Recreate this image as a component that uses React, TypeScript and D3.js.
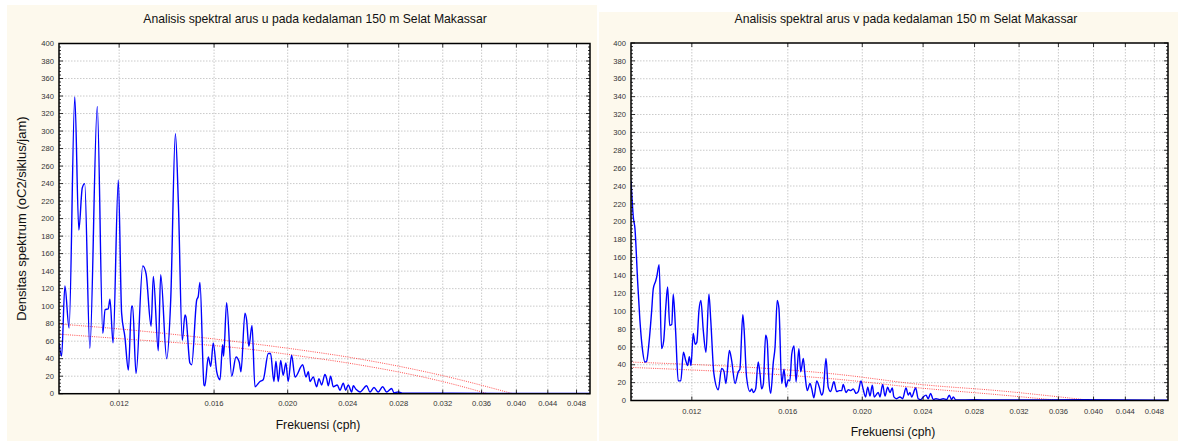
import React from "react";
import * as d3 from "d3";

// ---- shared axis definitions ----
const freqDomain = [0.01, 0.05];
const freqTicks = [0.012, 0.016, 0.02, 0.024, 0.028, 0.032, 0.036, 0.04, 0.044, 0.048];
const densityTicks = [0, 20, 40, 60, 80, 100, 120, 140, 160, 180, 200, 220, 240, 260, 280, 300, 320, 340, 360, 380, 400];

// ---- u component spectrum (cph, density) ----
const uFreq = [
  0.01, 0.01008, 0.01018, 0.01031, 0.01049, 0.01062, 0.01073, 0.01081, 0.01098, 0.01123,
  0.01142, 0.0115, 0.01161, 0.01167, 0.01178, 0.01197, 0.01209, 0.01221, 0.01234, 0.01246,
  0.0125, 0.01263, 0.01289, 0.01302, 0.01322, 0.01331, 0.01351, 0.01361, 0.01386, 0.01403,
  0.01423, 0.01436, 0.01453, 0.01465, 0.01469, 0.01487, 0.01495, 0.01518, 0.01525, 0.01533,
  0.01552, 0.01556, 0.01572, 0.01584, 0.01596, 0.01613, 0.01629, 0.01642, 0.01647, 0.01662,
  0.01688, 0.0171, 0.01727, 0.01736, 0.01757, 0.01766, 0.01778, 0.01795, 0.01811, 0.01839,
  0.01857, 0.01886, 0.01899, 0.01918, 0.0193, 0.01944, 0.01958, 0.01973, 0.01989, 0.02003,
  0.02024, 0.02045, 0.02093, 0.02114, 0.02129, 0.0214, 0.02161, 0.02183, 0.02199, 0.02217,
  0.02239, 0.02251, 0.02262, 0.02278, 0.02296, 0.02324, 0.02343, 0.02367, 0.02384, 0.02403,
  0.02428, 0.0244, 0.0246, 0.0249, 0.02541, 0.02566, 0.02598, 0.02632, 0.02667, 0.02699,
  0.02741, 0.0276, 0.02796, 0.02839, 0.0327, 0.03805, 0.04428, 0.05,
];
const uDensity = [
  58, 43, 123, 75, 339, 187, 235, 240, 52, 328,
  69, 96, 97, 108, 58, 244, 92, 65, 27, 100,
  100, 23, 146, 137, 77, 134, 49, 136, 40, 107,
  297, 217, 61, 90, 88, 35, 33, 107, 111, 127,
  10, 9, 42, 31, 58, 25, 16, 56, 43, 104,
  20, 42, 36, 25, 92, 84, 54, 78, 8, 14,
  16, 46, 46, 14, 37, 14, 38, 21, 35, 14,
  44, 19, 33, 19, 25, 14, 19, 8, 17, 10,
  22, 17, 9, 20, 8, 10, 4, 12, 4, 10,
  2, 9, 5, 2, 9, 2, 7, 2, 8, 2,
  6, 1, 2, 0.5, 0.5, 0.3, 0.2, 0.2,
];

// ---- v component spectrum (cph, density) ----
const vFreq = [
  0.01, 0.01007, 0.01012, 0.0102, 0.01027, 0.01034, 0.01043, 0.01048, 0.01055, 0.01064,
  0.01069, 0.01077, 0.0108, 0.01088, 0.01096, 0.01103, 0.0111, 0.01116, 0.01123, 0.0113,
  0.01135, 0.01143, 0.01152, 0.01161, 0.0117, 0.01178, 0.01185, 0.01191, 0.01197, 0.01205,
  0.01212, 0.01218, 0.01226, 0.01233, 0.01242, 0.01252, 0.01263, 0.0127, 0.01282, 0.01299,
  0.01312, 0.01321, 0.01329, 0.01343, 0.01352, 0.01366, 0.01379, 0.01386, 0.01398, 0.01403,
  0.01414, 0.01428, 0.01436, 0.01443, 0.01453, 0.01464, 0.01472, 0.01479, 0.01487, 0.01497,
  0.01504, 0.01512, 0.0152, 0.01532, 0.0154, 0.0155, 0.01558, 0.01571, 0.01582, 0.01591,
  0.01602, 0.0161, 0.01619, 0.0163, 0.0164, 0.01654, 0.01663, 0.01676, 0.01684, 0.01696,
  0.0171, 0.01719, 0.0173, 0.01745, 0.01758, 0.01771, 0.01779, 0.01794, 0.01806, 0.01819,
  0.01837, 0.01852, 0.01867, 0.0188, 0.01889, 0.01905, 0.01918, 0.01932, 0.01947, 0.01963,
  0.01976, 0.01992, 0.02006, 0.0202, 0.02033, 0.02047, 0.02061, 0.02073, 0.02084, 0.02098,
  0.02109, 0.02126, 0.02141, 0.02158, 0.02173, 0.02188, 0.02199, 0.02217, 0.02239, 0.02257,
  0.0228, 0.02296, 0.02307, 0.02319, 0.02347, 0.02365, 0.02383, 0.02401, 0.02421, 0.02437,
  0.02455, 0.02474, 0.02494, 0.02524, 0.02549, 0.02576, 0.02596, 0.02614, 0.02627, 0.02648,
  0.02804, 0.03022, 0.03875, 0.05,
];
const vDensity = [
  246, 205, 192, 134, 90, 60, 43, 44, 63, 101,
  125, 134, 138, 152, 58, 67, 105, 127, 84, 85,
  119, 78, 22, 22, 54, 45, 39, 49, 39, 75,
  63, 65, 101, 112, 78, 54, 119, 90, 30, 12,
  36, 33, 19, 56, 45, 19, 32, 35, 96, 82,
  26, 10, 13, 9, 13, 43, 30, 13, 19, 73,
  67, 23, 8, 43, 60, 112, 103, 19, 35, 15,
  23, 22, 52, 61, 21, 58, 32, 47, 30, 11,
  19, 13, 3, 22, 15, 6, 10, 47, 15, 10,
  21, 10, 11, 11, 18, 9, 12, 11, 13, 8,
  10, 22, 12, 4, 15, 5, 17, 4, 6, 9,
  4, 18, 5, 15, 9, 14, 4, 2, 4, 2,
  14, 6, 9, 4, 14, 2, 1, 4, 6, 2,
  8, 1, 2, 1, 2, 1, 6, 1, 4, 0.5,
  1, 0.5, 1, 0.3,
];

// ---- confidence limits (dotted red) ----
const uUpperFreq = [0.01, 0.01199, 0.01784, 0.02076, 0.02415, 0.0327, 0.03958];
const uUpperVal = [79.6, 74, 57.5, 50, 41.5, 18.7, 0];
const uLowerFreq = [0.01, 0.01199, 0.01784, 0.02076, 0.02415, 0.0327, 0.03669];
const uLowerVal = [68, 63, 50.7, 43, 34.7, 11.8, 0];

const vUpperFreq = [0.01, 0.01871, 0.02378, 0.03022, 0.03981];
const vUpperVal = [43, 29, 18, 10.8, 0];
const vLowerFreq = [0.01, 0.01871, 0.02378, 0.03022, 0.03617];
const vLowerVal = [37, 23.5, 14, 6.3, 0];

const titles = [
  "Analisis spektral arus u pada kedalaman 150 m Selat Makassar",
  "Analisis spektral arus v pada kedalaman 150 m Selat Makassar",
];
const yLabel = "Densitas spektrum (oC2/siklus/jam)";
const xLabel = "Frekuensi (cph)";

const FONT = "'Liberation Sans', Arial, sans-serif";
const CREAM = "#fdf9ed";

type Box = {
  x0: number; x1: number; y0: number; y1: number;
  titleX: number; titleY: number;
  xLabX: number; xLabY: number;
  yLabX: number;
  tickLabY: number;
};

const zip = (a: number[], b: number[]) => a.map((v, i) => [v, b[i]] as [number, number]);

function SpectrumPanel(props: {
  id: string; box: Box; title: string;
  freq: number[]; dens: number[];
  upF: number[]; upV: number[]; loF: number[]; loV: number[];
  showYLabel: boolean;
}) {
  const { id, box, title, freq, dens, upF, upV, loF, loV, showYLabel } = props;
  const x = d3.scaleLog().domain(freqDomain).range([box.x0, box.x1]);
  const y = d3.scaleLinear().domain([0, 400]).range([box.y1, box.y0]);
  const smooth = d3
    .line<[number, number]>()
    .x((d) => x(d[0]))
    .y((d) => y(d[1]))
    .curve(d3.curveMonotoneX);
  const minorY = d3.range(0, 401, 4);
  const fmt = d3.format(".3f");

  return (
    <g>
      <defs>
        <clipPath id={`clip-${id}`}>
          <rect x={box.x0} y={box.y0 - 1} width={box.x1 - box.x0} height={box.y1 - box.y0 + 1} />
        </clipPath>
      </defs>
      <rect x={box.x0} y={box.y0} width={box.x1 - box.x0} height={box.y1 - box.y0} fill="#ffffff" />

      {/* grid */}
      {densityTicks.slice(1, -1).map((t) => (
        <line key={`gy${t}`} x1={box.x0} x2={box.x1} y1={y(t)} y2={y(t)}
          stroke="#bdbdbd" strokeWidth={0.8} strokeDasharray="1.5,1.5" />
      ))}
      {freqTicks.map((t) => (
        <line key={`gx${t}`} x1={x(t)} x2={x(t)} y1={box.y0} y2={box.y1}
          stroke="#bdbdbd" strokeWidth={0.8} strokeDasharray="1.5,1.5" />
      ))}

      <g clipPath={`url(#clip-${id})`}>
        <path d={smooth(zip(upF, upV)) || ""} fill="none" stroke="#ff3030" strokeOpacity={0.85}
          strokeWidth={1} strokeDasharray="1,1.2" />
        <path d={smooth(zip(loF, loV)) || ""} fill="none" stroke="#ff3030" strokeOpacity={0.85}
          strokeWidth={1} strokeDasharray="1,1.2" />
        <path d={smooth(zip(freq, dens)) || ""} fill="none" stroke="#0000ff" strokeWidth={1.4}
          strokeLinejoin="round" />
      </g>

      {/* frame */}
      <rect x={box.x0} y={box.y0} width={box.x1 - box.x0} height={box.y1 - box.y0}
        fill="none" stroke="#000" strokeWidth={1.5} />

      {/* y ticks, left and right, pointing inward */}
      {minorY.map((t) => {
        const major = t % 20 === 0;
        const len = major ? 4 : 2;
        return (
          <g key={`ty${t}`}>
            <line x1={box.x0} x2={box.x0 + len} y1={y(t)} y2={y(t)} stroke="#000" strokeWidth={0.8} />
            <line x1={box.x1} x2={box.x1 - len} y1={y(t)} y2={y(t)} stroke="#000" strokeWidth={0.8} />
          </g>
        );
      })}
      {/* x ticks, top and bottom */}
      {freqTicks.map((t) => (
        <g key={`tx${t}`}>
          <line x1={x(t)} x2={x(t)} y1={box.y0} y2={box.y0 + 4} stroke="#000" strokeWidth={0.8} />
          <line x1={x(t)} x2={x(t)} y1={box.y1} y2={box.y1 - 4} stroke="#000" strokeWidth={0.8} />
        </g>
      ))}

      {/* tick labels */}
      {densityTicks.map((t) => (
        <text key={`ly${t}`} x={box.x0 - 5} y={y(t)} dy="0.35em" textAnchor="end"
          fontFamily={FONT} fontSize={7.6} fill="#333">{t}</text>
      ))}
      {freqTicks.map((t) => (
        <text key={`lx${t}`} x={x(t)} y={box.tickLabY} textAnchor="middle"
          fontFamily={FONT} fontSize={7.6} fill="#333">{fmt(t)}</text>
      ))}

      <text x={box.titleX} y={box.titleY} textAnchor="middle" fontFamily={FONT} fontSize={12.2} fill="#111">
        {title}
      </text>
      <text x={box.xLabX} y={box.xLabY} textAnchor="middle" fontFamily={FONT} fontSize={12.2} fill="#111">
        {xLabel}
      </text>
      {showYLabel && (
        <text transform={`translate(${box.yLabX},${(box.y0 + box.y1) / 2}) rotate(-90)`}
          textAnchor="middle" fontFamily={FONT} fontSize={13} fill="#111">
          {yLabel}
        </text>
      )}
    </g>
  );
}

const leftBox: Box = {
  x0: 59, x1: 590, y0: 43.5, y1: 393.7,
  titleX: 315, titleY: 23, xLabX: 318, xLabY: 429, yLabX: 26, tickLabY: 406,
};
const rightBox: Box = {
  x0: 631, x1: 1168, y0: 43, y1: 400.5,
  titleX: 906, titleY: 23, xLabX: 893, xLabY: 436, yLabX: 0, tickLabY: 414,
};

export default function App() {
  return (
    <svg width={1184} height={441} viewBox="0 0 1184 441"
      style={{ position: "absolute", left: 0, top: 0, display: "block", background: "#fff" }}>
      <rect x={7} y={5} width={590} height={436} fill={CREAM} />
      <rect x={599} y={12} width={579} height={429} fill={CREAM} />
      <SpectrumPanel id="u" box={leftBox} title={titles[0]} freq={uFreq} dens={uDensity}
        upF={uUpperFreq} upV={uUpperVal} loF={uLowerFreq} loV={uLowerVal} showYLabel={true} />
      <SpectrumPanel id="v" box={rightBox} title={titles[1]} freq={vFreq} dens={vDensity}
        upF={vUpperFreq} upV={vUpperVal} loF={vLowerFreq} loV={vLowerVal} showYLabel={false} />
    </svg>
  );
}
